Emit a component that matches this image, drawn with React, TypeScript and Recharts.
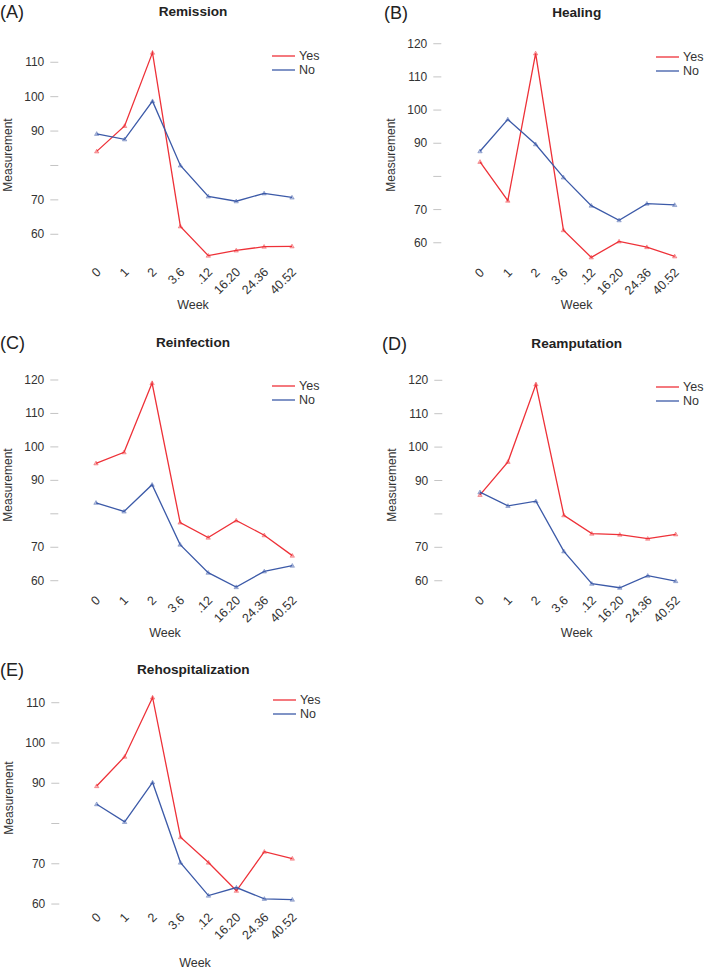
import { LineChart, Line, XAxis, YAxis } from "recharts";

const weeks = ["0", "1", "2", "3.6", ".12", "16.20", "24.36", "40.52"];

const remissionYes = [84.1, 91.5, 112.8, 62.3, 53.8, 55.3, 56.4, 56.5];
const remissionNo = [89.2, 87.6, 98.7, 80.0, 71.0, 69.6, 71.9, 70.7];
const healingYes = [84.4, 72.7, 117.1, 63.8, 55.6, 60.4, 58.7, 55.9];
const healingNo = [87.6, 97.2, 89.7, 79.7, 71.2, 66.8, 71.8, 71.4];
const reinfectionYes = [95.1, 98.4, 119.1, 77.4, 72.9, 78.0, 73.6, 67.5];
const reinfectionNo = [83.3, 80.7, 88.7, 70.8, 62.4, 58.1, 62.8, 64.5];
const reamputationYes = [85.7, 95.6, 118.8, 79.6, 74.1, 73.8, 72.6, 73.9];
const reamputationNo = [86.5, 82.4, 83.8, 68.8, 59.1, 57.9, 61.5, 59.9];
const rehospYes = [89.3, 96.6, 111.3, 76.6, 70.3, 63.3, 73.0, 71.3];
const rehospNo = [84.8, 80.4, 90.2, 70.3, 62.1, 64.1, 61.3, 61.1];

const ticksLow = [60, 70, 80, 90, 100, 110];
const ticksHigh = [60, 70, 80, 90, 100, 110, 120];

const RED = "#ee3138";
const BLUE = "#3c5aa8";
const FONT = "'Liberation Sans', Arial, sans-serif";

interface Layout {
  ox: number;
  oy: number;
  w: number;
  h: number;
  plotLeft: number;
  firstX: number;
  lastX: number;
  plotRight: number;
  top: number;
  bottom: number;
  domain: [number, number];
  xLabelGap: number;
  titleX: number;
  titleY: number;
  letterX: number;
  measureX: number;
  measureY: number;
  weekX: number;
  weekY: number;
  legendX: number;
  legendY: number;
}

function Dot(props: any) {
  const { cx, cy, stroke } = props;
  if (cx == null || cy == null) return null;
  return (
    <path
      d={`M${cx - 2.2},${cy + 1.6} L${cx},${cy - 2.2} L${cx + 2.2},${cy + 1.6} Z`}
      fill={stroke}
      fillOpacity={0.35}
      stroke={stroke}
      strokeOpacity={0.5}
      strokeWidth={0.8}
    />
  );
}

function YTick(props: any) {
  const { x, y, payload } = props;
  if (payload.value === 80) return <g />;
  return (
    <text x={x} y={y} dy={4} textAnchor="end" fontSize={12} fill="#333" fontFamily={FONT}>
      {payload.value}
    </text>
  );
}

function XTick(props: any) {
  const { x, y, payload } = props;
  return (
    <text
      x={x + 5}
      y={y}
      textAnchor="end"
      fontSize={12.5}
      fill="#333"
      fontFamily={FONT}
      transform={`rotate(-45, ${x + 5}, ${y})`}
    >
      {payload.value}
    </text>
  );
}

function Panel({
  letter,
  title,
  yes,
  no,
  ticks,
  lay,
}: {
  letter: string;
  title: string;
  yes: number[];
  no: number[];
  ticks: number[];
  lay: Layout;
}) {
  const data = weeks.map((week, i) => ({ week, yes: yes[i], no: no[i] }));
  const series = [
    { name: "Yes", color: RED },
    { name: "No", color: BLUE },
  ];
  return (
    <div style={{ position: "absolute", left: lay.ox, top: lay.oy, width: lay.w, height: lay.h, fontFamily: FONT }}>
      <LineChart
        width={lay.w}
        height={lay.h}
        data={data}
        margin={{ top: lay.top, left: 0, right: lay.w - lay.plotRight, bottom: 0 }}
      >
        <XAxis
          dataKey="week"
          interval={0}
          axisLine={false}
          tickLine={false}
          tickSize={0}
          tickMargin={lay.xLabelGap}
          height={lay.h - lay.bottom}
          padding={{ left: lay.firstX - lay.plotLeft, right: lay.plotRight - lay.lastX }}
          tick={<XTick />}
        />
        <YAxis
          type="number"
          domain={lay.domain}
          ticks={ticks}
          width={lay.plotLeft}
          axisLine={false}
          tickLine={{ stroke: "#c4c4c4" }}
          tickSize={8}
          tickMargin={6}
          tick={<YTick />}
        />
        <Line dataKey="yes" name="Yes" stroke={RED} strokeWidth={1.3} dot={<Dot />} isAnimationActive={false} />
        <Line dataKey="no" name="No" stroke={BLUE} strokeWidth={1.3} dot={<Dot />} isAnimationActive={false} />
      </LineChart>
      <div style={{ position: "absolute", left: lay.letterX, top: lay.titleY - 11, fontSize: 18, lineHeight: "22px", color: "#222" }}>
        {letter}
      </div>
      <div
        style={{
          position: "absolute",
          left: lay.titleX - 100,
          width: 200,
          top: lay.titleY - 8,
          textAlign: "center",
          fontSize: 13.6,
          lineHeight: "16px",
          fontWeight: "bold",
          color: "#222",
        }}
      >
        {title}
      </div>
      <div
        style={{
          position: "absolute",
          left: lay.measureX - 50,
          top: lay.measureY - 8,
          width: 100,
          lineHeight: "16px",
          textAlign: "center",
          fontSize: 12,
          color: "#333",
          transform: "rotate(-90deg)",
        }}
      >
        Measurement
      </div>
      <div
        style={{
          position: "absolute",
          left: lay.weekX - 40,
          width: 80,
          top: lay.weekY - 8,
          lineHeight: "16px",
          textAlign: "center",
          fontSize: 12.5,
          color: "#333",
        }}
      >
        Week
      </div>
      {series.map((s, i) => (
        <div
          key={s.name}
          style={{
            position: "absolute",
            left: lay.legendX,
            top: lay.legendY + i * 14 - 8,
            height: 16,
            display: "flex",
            alignItems: "center",
            fontSize: 12.5,
            color: "#333",
            whiteSpace: "nowrap",
          }}
        >
          <svg width={27} height={16} style={{ display: "block" }}>
            <line x1={0} x2={23} y1={8} y2={8} stroke={s.color} strokeWidth={1.3} />
          </svg>
          {s.name}
        </div>
      ))}
    </div>
  );
}

const layoutA: Layout = {
  ox: 0, oy: 0, w: 354, h: 320,
  plotLeft: 58.3, firstX: 96.7, lastX: 292, plotRight: 300,
  top: 48.5, bottom: 261.8, domain: [52, 114], xLabelGap: 11,
  titleX: 193, titleY: 12, letterX: 0,
  measureX: 8, measureY: 155, weekX: 193, weekY: 305,
  legendX: 272, legendY: 56,
};
const layoutB: Layout = {
  ox: 354, oy: 0, w: 355, h: 320,
  plotLeft: 87.3, firstX: 126, lastX: 320.7, plotRight: 330,
  top: 37.1, bottom: 269.3, domain: [52, 122], xLabelGap: 4,
  titleX: 222.7, titleY: 13, letterX: 30,
  measureX: 37, measureY: 155, weekX: 222.7, weekY: 305,
  legendX: 302, legendY: 57,
};
const layoutC: Layout = {
  ox: 0, oy: 320, w: 354, h: 320,
  plotLeft: 58.3, firstX: 96, lastX: 292.3, plotRight: 300,
  top: 53.3, bottom: 274.1, domain: [56, 122], xLabelGap: 7,
  titleX: 193, titleY: 22.7, letterX: 0,
  measureX: 8, measureY: 165, weekX: 165, weekY: 312.7,
  legendX: 272, legendY: 66,
};
const layoutD: Layout = {
  ox: 354, oy: 320, w: 355, h: 320,
  plotLeft: 88.3, firstX: 126, lastX: 321.7, plotRight: 330,
  top: 53.6, bottom: 274.1, domain: [56, 122], xLabelGap: 7,
  titleX: 222.7, titleY: 24, letterX: 28,
  measureX: 38.3, measureY: 165, weekX: 222.7, weekY: 312.7,
  legendX: 302, legendY: 66.7,
};
const layoutE: Layout = {
  ox: 0, oy: 640, w: 354, h: 330,
  plotLeft: 59.3, firstX: 96.7, lastX: 292.3, plotRight: 300,
  top: 46.6, bottom: 272.1, domain: [58, 114], xLabelGap: 6,
  titleX: 193.3, titleY: 30, letterX: 0,
  measureX: 9, measureY: 158, weekX: 195, weekY: 322.7,
  legendX: 273, legendY: 60,
};

export default function App() {
  return (
    <div style={{ position: "absolute", left: 0, top: 0, width: 709, height: 970, background: "#fff", overflow: "hidden" }}>
      <Panel letter="(A)" title="Remission" yes={remissionYes} no={remissionNo} ticks={ticksLow} lay={layoutA} />
      <Panel letter="(B)" title="Healing" yes={healingYes} no={healingNo} ticks={ticksHigh} lay={layoutB} />
      <Panel letter="(C)" title="Reinfection" yes={reinfectionYes} no={reinfectionNo} ticks={ticksHigh} lay={layoutC} />
      <Panel letter="(D)" title="Reamputation" yes={reamputationYes} no={reamputationNo} ticks={ticksHigh} lay={layoutD} />
      <Panel letter="(E)" title="Rehospitalization" yes={rehospYes} no={rehospNo} ticks={ticksLow} lay={layoutE} />
    </div>
  );
}
